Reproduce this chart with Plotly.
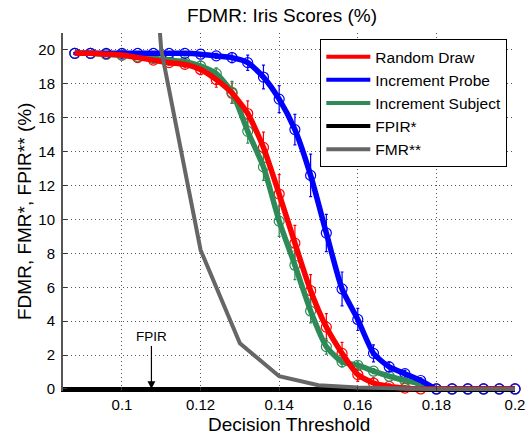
import plotly.graph_objects as go

# ---------------- data ----------------
thresholds = [0.088, 0.092, 0.096, 0.100, 0.104, 0.108, 0.112, 0.116, 0.120, 0.124,
              0.128, 0.132, 0.136, 0.140, 0.144, 0.148, 0.152, 0.156, 0.160, 0.164,
              0.168, 0.172, 0.176, 0.180, 0.184, 0.188, 0.192, 0.196, 0.200]

random_draw = [19.8, 19.8, 19.75, 19.7, 19.55, 19.4, 19.25, 19.15, 18.85, 18.25,
               17.45, 16.25, 14.25, 11.5, 8.6, 5.8, 3.65, 2.1, 0.85, 0.35,
               0.15, 0.05, 0.0, 0.0, 0.0, 0.0, 0.0, 0.0, 0.0]
random_draw_err = [0.05, 0.05, 0.05, 0.1, 0.1, 0.15, 0.15, 0.2, 0.3, 0.45,
                   0.6, 0.75, 0.9, 1.15, 1.05, 0.95, 0.8, 0.65, 0.4, 0.3,
                   0.15, 0.05, 0.0, 0.0, 0.0, 0.0, 0.0, 0.0, 0.0]

increment_probe = [19.8, 19.8, 19.8, 19.8, 19.8, 19.8, 19.8, 19.8, 19.75, 19.65,
                   19.55, 19.25, 18.4, 17.1, 15.3, 12.6, 9.2, 5.9, 4.1, 2.1,
                   1.3, 0.9, 0.5, 0.0, 0.0, 0.0, 0.0, 0.0, 0.0]
increment_probe_err = [0.05, 0.05, 0.05, 0.05, 0.05, 0.05, 0.05, 0.05, 0.1, 0.15,
                       0.3, 0.45, 0.7, 0.8, 0.9, 1.25, 1.1, 1.0, 0.65, 0.5,
                       0.3, 0.2, 0.15, 0.0, 0.0, 0.0, 0.0, 0.0, 0.0]

increment_subject = [19.8, 19.8, 19.75, 19.7, 19.6, 19.5, 19.4, 19.3, 19.05, 18.6,
                     17.5, 15.2, 13.1, 9.9, 7.3, 4.6, 2.5, 1.6, 1.4, 1.05,
                     0.75, 0.5, 0.3, 0.0, 0.0, 0.0, 0.0, 0.0, 0.0]
increment_subject_err = [0.05, 0.05, 0.05, 0.1, 0.1, 0.15, 0.15, 0.2, 0.3, 0.35,
                         0.65, 0.7, 0.8, 0.9, 0.85, 0.7, 0.45, 0.3, 0.2, 0.15,
                         0.1, 0.05, 0.05, 0.0, 0.0, 0.0, 0.0, 0.0, 0.0]

fpir_x = [0.08, 0.10, 0.12, 0.14, 0.16, 0.18, 0.20]
fpir_y = [0.0, 0.0, 0.0, 0.0, 0.0, 0.0, 0.0]

fmr_x = [0.10, 0.11, 0.12, 0.13, 0.14, 0.15, 0.16, 0.17, 0.18, 0.19, 0.20]
fmr_y = [50.0, 20.0, 8.2, 2.7, 0.75, 0.22, 0.08, 0.03, 0.0, 0.0, 0.0]

fpir_marker_x = 0.1075
fpir_marker_y = 0.0

x_ticks = [0.1, 0.12, 0.14, 0.16, 0.18, 0.2]
x_tick_labels = ["0.1", "0.12", "0.14", "0.16", "0.18", "0.2"]
y_ticks = [0, 2, 4, 6, 8, 10, 12, 14, 16, 18, 20]

RED = "#ff0000"
BLUE = "#0000ff"
GREEN = "#2e8b57"
BLACK = "#000000"
GRAY = "#666666"
FONT = "Liberation Sans, Arial, Helvetica, sans-serif"

fig = go.Figure()

# markers with error bars (drawn first, under lines)
for name, ys, es, col in [("Random Draw", random_draw, random_draw_err, RED),
                          ("Increment Subject", increment_subject, increment_subject_err, GREEN),
                          ("Increment Probe", increment_probe, increment_probe_err, BLUE)]:
    fig.add_trace(go.Scatter(
        x=thresholds, y=ys, mode="markers", showlegend=False, cliponaxis=False,
        marker=dict(symbol="circle-open", size=10, color=col, line=dict(width=1.2, color=col)),
        error_y=dict(type="data", array=es, visible=True, color=col, thickness=1.2, width=1.5),
        hoverinfo="skip"))

# FPIR* line at zero
fig.add_trace(go.Scatter(x=fpir_x, y=fpir_y, mode="lines", name="FPIR*",
                         line=dict(color=BLACK, width=4), showlegend=False))

# thick lines
for name, ys, col in [("Increment Subject", increment_subject, GREEN),
                      ("Increment Probe", increment_probe, BLUE),
                      ("Random Draw", random_draw, RED)]:
    fig.add_trace(go.Scatter(x=thresholds, y=ys, mode="lines", name=name, showlegend=False,
                             line=dict(color=col, width=5.5, shape="spline", smoothing=0.6)))

# FMR** line
fig.add_trace(go.Scatter(x=fmr_x, y=fmr_y, mode="lines", name="FMR**", showlegend=False,
                         line=dict(color=GRAY, width=4)))

# legend entries (in reference order)
for name, col in [("Random Draw", RED), ("Increment Probe", BLUE), ("Increment Subject", GREEN),
                  ("FPIR*", BLACK), ("FMR**", GRAY)]:
    fig.add_trace(go.Scatter(x=[None], y=[None], mode="lines", name=name,
                             line=dict(color=col, width=4)))

fig.add_annotation(x=fpir_marker_x, y=fpir_marker_y, xref="x", yref="y", text="FPIR",
                   showarrow=True, ax=0, ay=-52, arrowhead=2, arrowsize=1.3, arrowwidth=1.2,
                   arrowcolor="black", font=dict(size=13.5, color="black", family=FONT))

# axis titles as annotations (fixed positions)
fig.add_annotation(text="Decision Threshold", xref="paper", yref="paper",
                   x=0.5, y=-33 / 358, xanchor="center", yanchor="middle", showarrow=False,
                   font=dict(size=19, family=FONT, color="black"))
fig.add_annotation(text="FDMR, FMR*, FPIR** (%)", xref="paper", yref="paper",
                   x=-39 / 452, y=0.5, xanchor="center", yanchor="middle", showarrow=False,
                   textangle=-90, font=dict(size=19, family=FONT, color="black"))

fig.update_layout(
    width=531, height=438,
    margin=dict(l=63, r=16, t=33, b=47, autoexpand=False),
    paper_bgcolor="white", plot_bgcolor="white",
    font=dict(family=FONT, color="black"),
    title=dict(text="FDMR: Iris Scores (%)", x=282 / 531, xanchor="center",
               y=1 - 15 / 438, yanchor="middle", font=dict(size=19, family=FONT)),
    showlegend=True,
    legend=dict(x=0.983, xanchor="right", y=0.983, yanchor="top",
                bgcolor="white", bordercolor="black", borderwidth=1, itemwidth=44,
                font=dict(size=15.5, family=FONT), tracegroupgap=0),
    xaxis=dict(range=[0.085, 0.2], tickvals=x_ticks, ticktext=x_tick_labels,
               ticks="inside", ticklen=4, tickcolor="#333", automargin=False,
               showline=True, linecolor="black", linewidth=1, mirror=False,
               showgrid=True, gridcolor="#555", gridwidth=1, griddash="1px,3px",
               zeroline=False, tickfont=dict(size=15, family=FONT)),
    yaxis=dict(range=[-0.12, 21], tickvals=y_ticks, automargin=False,
               ticks="inside", ticklen=4, tickcolor="#333", ticklabelstandoff=3,
               showline=True, linecolor="#555", linewidth=2, mirror=False,
               showgrid=True, gridcolor="#555", gridwidth=1, griddash="1px,3px",
               zeroline=False, tickfont=dict(size=15, family=FONT)),
)

fig.write_html("out.html", config={"displayModeBar": False},
               post_script="document.body.style.margin='0px';")
